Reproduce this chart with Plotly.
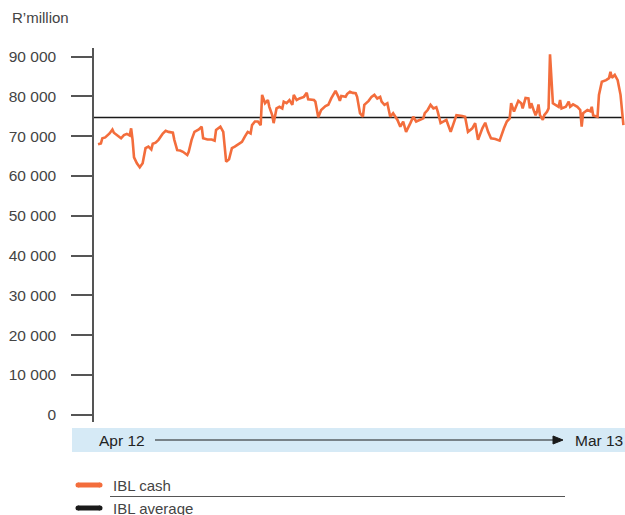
import plotly.graph_objects as go

# Day offsets from 1 April 2012 and IBL cash balances (R'million)
day = [0, 2, 3, 5, 8, 10, 11, 16, 18, 20, 22, 23, 24, 25, 27, 29, 31, 33, 35, 37,
       38, 40, 42, 45, 47, 49, 52, 53, 55, 57, 59, 62, 63, 65, 67, 70, 72, 73, 76, 79,
       81, 82, 85, 87, 88, 89, 91, 93, 95, 97, 100, 102, 104, 106, 107, 109, 111, 113, 114, 116,
       118, 119, 121, 122, 124, 126, 128, 129, 131, 133, 135, 136, 138, 140, 143, 145, 146, 150, 151, 153,
       155, 158, 160, 162, 165, 167, 168, 169, 172, 173, 175, 177, 179, 180, 182, 184, 185, 188, 190, 192,
       194, 196, 197, 199, 201, 203, 205, 208, 210, 212, 214, 217, 219, 221, 224, 226, 227, 229, 231, 233,
       235, 236, 238, 240, 242, 245, 247, 249, 253, 255, 257, 260, 262, 264, 267, 269, 271, 273, 276, 279,
       282, 284, 286, 287, 289, 292, 294, 295, 297, 299, 300, 301, 303, 304, 305, 306, 307, 309, 310, 312,
       313, 314, 316, 318, 320, 321, 322, 325, 327, 328, 330, 333, 335, 336, 337, 340, 342, 343, 344, 347,
       348, 350, 353, 355, 356, 357, 359, 361, 363, 365]
ibl_cash = [68000, 68200, 69500, 69700, 70700, 71700, 70900, 69500, 70300, 70600, 70200, 72000, 69100, 64700, 63200, 62200, 63200, 67000, 67400, 66700,
            68100, 68400, 69100, 70700, 71400, 71100, 70900, 69100, 66500, 66400, 66100, 65300, 66100, 69100, 71100, 71700, 72400, 69500, 69200, 69200,
            68900, 71600, 72400, 71100, 67400, 63600, 64200, 67000, 67400, 67800, 68600, 69900, 71100, 70700, 72800, 73700, 73700, 72800, 80400, 78300,
            79100, 77400, 75300, 73300, 77000, 77400, 77000, 78700, 78300, 79100, 77900, 80400, 79100, 79500, 79900, 80900, 79300, 79100, 78700, 74800,
            76600, 77600, 77900, 79500, 81400, 79900, 78900, 80100, 79900, 80600, 81200, 80900, 80800, 79900, 75800, 74900, 77900, 78900, 79900, 80400,
            79500, 79900, 78700, 77900, 78300, 74900, 75800, 74100, 72400, 73700, 71100, 73300, 74900, 73700, 74300, 74500, 75800, 76600, 77900, 77000,
            77300, 76200, 73300, 73700, 74100, 71100, 73300, 75300, 75100, 74900, 71100, 72000, 73300, 69100, 72000, 73400, 71100, 69500, 69300, 68900,
            72000, 73700, 74500, 78300, 76200, 78900, 78300, 77000, 79600, 79500, 77000, 78300, 76200, 75300, 76200, 78000, 75300, 74100, 75300, 76200,
            77000, 90600, 78300, 77900, 77400, 79100, 77000, 77400, 78700, 77400, 78000, 77400, 76600, 72400, 75800, 76600, 76300, 77400, 75200, 74900,
            80400, 83700, 84100, 84600, 86200, 84700, 85400, 84100, 80400, 72800]
IBL_AVERAGE = 74700

y_ticks = list(range(0, 90001, 10000))
period_start, period_end = "Apr 12", "Mar 13"
legend_labels = ["IBL cash", "IBL average"]

ORANGE = "#F36D3C"
BLACK = "#1a1a1a"
TEXT = "#444444"
FONT = "Liberation Sans, Arial, sans-serif"

W, H = 625, 515
L, R, T, B = 94, 625, 48, 422  # plot area edges in pixels


def px(x):
    return (x - L) / (R - L)


def py(y):
    return (B - y) / (B - T)


fig = go.Figure()
fig.add_trace(go.Scatter(x=day, y=ibl_cash, mode="lines",
                         line=dict(color=ORANGE, width=2.6), hoverinfo="skip",
                         showlegend=False))

shapes = []
annotations = []

# IBL average reference line, drawn under the cash series
shapes.append(dict(type="line", xref="paper", yref="y", x0=0, x1=0.995,
                   y0=IBL_AVERAGE, y1=IBL_AVERAGE,
                   line=dict(color=BLACK, width=1.5), layer="below"))

# period band beneath the chart
shapes.append(dict(type="rect", xref="paper", yref="paper",
                   x0=px(72), x1=px(625), y0=py(428), y1=py(452),
                   fillcolor="#D6EAF6", line=dict(width=0), layer="above"))
shapes.append(dict(type="line", xref="paper", yref="paper",
                   x0=px(155), x1=px(556), y0=py(440), y1=py(440),
                   line=dict(color=BLACK, width=1.2)))
shapes.append(dict(type="path", xref="paper", yref="paper",
                   path=f"M {px(553)},{py(436)} L {px(563)},{py(440)} L {px(553)},{py(444)} Z",
                   fillcolor=BLACK, line=dict(color=BLACK, width=1)))
annotations.append(dict(text=period_start, xref="paper", yref="paper",
                        x=px(97), y=py(440), xanchor="left", yanchor="middle",
                        showarrow=False, font=dict(size=15.5, color="#222", family=FONT)))
annotations.append(dict(text=period_end, xref="paper", yref="paper",
                        x=px(625), y=py(440), xanchor="right", yanchor="middle",
                        showarrow=False, font=dict(size=15.5, color="#222", family=FONT)))

# legend entries
for label, color, yy in zip(legend_labels, [ORANGE, BLACK], [485, 508]):
    shapes.append(dict(type="line", xref="paper", yref="paper",
                       x0=px(78), x1=px(100), y0=py(yy), y1=py(yy),
                       line=dict(color=color, width=5)))
    for cx in (78, 100):
        shapes.append(dict(type="circle", xref="paper", yref="paper",
                           x0=px(cx - 2.5), x1=px(cx + 2.5), y0=py(yy - 2.5), y1=py(yy + 2.5),
                           fillcolor=color, line=dict(width=0)))
    annotations.append(dict(text=label, xref="paper", yref="paper",
                            x=px(111), y=py(yy), xanchor="left", yanchor="middle",
                            showarrow=False, font=dict(size=15, color=TEXT, family=FONT)))
shapes.append(dict(type="line", xref="paper", yref="paper",
                   x0=px(110), x1=px(565), y0=py(496.5), y1=py(496.5),
                   line=dict(color="#555", width=1)))

# unit label above the axis
annotations.append(dict(text="R’million", xref="paper", yref="paper",
                        x=px(10), y=py(18), xanchor="left", yanchor="middle",
                        showarrow=False, font=dict(size=15, color=TEXT, family=FONT)))

fig.update_layout(
    width=W, height=H,
    margin=dict(l=L, r=W - R, t=T, b=H - B),
    paper_bgcolor="white", plot_bgcolor="white",
    separators=". ",
    font=dict(family=FONT, size=15, color=TEXT),
    shapes=shapes, annotations=annotations,
    showlegend=False,
)
fig.update_xaxes(range=[-2.8, 366.1], visible=False, showgrid=False, zeroline=False)
fig.update_yaxes(range=[-1810, 92180], tickvals=y_ticks, tickformat=",d",
                 ticks="outside", ticklen=21, tickwidth=1.5, tickcolor="#555",
                 showline=True, linecolor="#555", linewidth=1.5,
                 showgrid=False, zeroline=False, ticklabelstandoff=12,
                 tickfont=dict(size=15.5, color=TEXT, family=FONT))

fig.write_html("out.html")
